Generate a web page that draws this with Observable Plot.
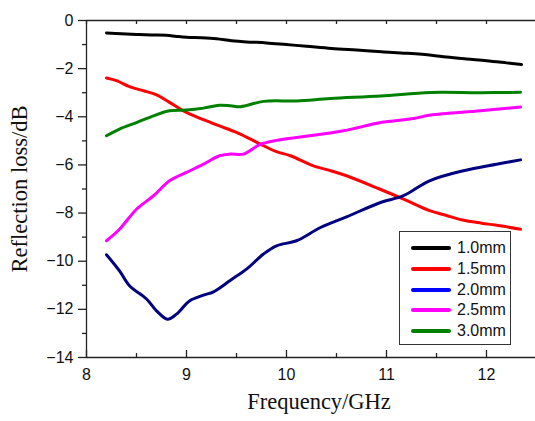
<!DOCTYPE html>
<html><head><meta charset="utf-8">
<script src="https://cdn.jsdelivr.net/npm/d3@7"></script>
<script src="https://cdn.jsdelivr.net/npm/@observablehq/plot@0.6"></script>
<style>
body{margin:0;background:#fff;}
#wrap{position:relative;width:535px;height:421px;overflow:hidden;}
#legend{position:absolute;left:399px;top:231px;width:112px;height:114px;border:1px solid #333;background:#fff;box-sizing:border-box;font-family:"Liberation Sans",Arial,sans-serif;font-size:16px;color:#111;}
.row{position:absolute;left:0;height:20px;}
.sw{position:absolute;left:11px;top:8px;width:40px;height:4px;border-radius:2px;}
.lb{position:absolute;left:57px;top:0;line-height:20px;}
</style></head><body><div id="wrap"></div>
<script>
const seriesNames = ["1.0mm", "1.5mm", "2.0mm", "2.5mm", "3.0mm"];
const lineColors = ["#000000", "#ff0000", "#000080", "#ff00ff", "#008000"];
const legendColors = ["#000000", "#ff0000", "#0000ff", "#ff00ff", "#008000"];

const f10 = [8.2, 8.35, 8.5, 8.65, 8.8, 8.9, 9.0, 9.15, 9.3, 9.45, 9.6, 9.8, 10.0, 10.2, 10.45, 10.7, 10.95, 11.2, 11.45, 11.6, 11.8, 12.0, 12.2, 12.35];
const rl10 = [-0.52, -0.55, -0.58, -0.60, -0.61, -0.66, -0.70, -0.72, -0.76, -0.84, -0.89, -0.93, -1.0, -1.07, -1.16, -1.23, -1.30, -1.36, -1.44, -1.52, -1.6, -1.67, -1.76, -1.83];

const f15 = [8.2, 8.3, 8.43, 8.57, 8.7, 8.83, 9.0, 9.17, 9.33, 9.5, 9.64, 9.77, 9.9, 10.04, 10.27, 10.45, 10.6, 10.93, 11.17, 11.43, 11.6, 11.76, 11.95, 12.09, 12.34];
const rl15 = [-2.39, -2.5, -2.75, -2.92, -3.09, -3.4, -3.82, -4.12, -4.38, -4.65, -4.93, -5.2, -5.45, -5.62, -6.04, -6.25, -6.45, -7.0, -7.42, -7.9, -8.1, -8.29, -8.42, -8.5, -8.67];

const f20 = [8.2, 8.33, 8.43, 8.6, 8.7, 8.81, 8.9, 9.03, 9.17, 9.27, 9.44, 9.6, 9.77, 9.9, 10.1, 10.34, 10.6, 10.94, 11.17, 11.43, 11.77, 12.1, 12.34];
const rl20 = [-9.73, -10.4, -11.02, -11.57, -12.06, -12.41, -12.2, -11.65, -11.41, -11.27, -10.79, -10.33, -9.7, -9.36, -9.15, -8.6, -8.16, -7.56, -7.28, -6.66, -6.24, -5.97, -5.79];

const f25 = [8.2, 8.33, 8.5, 8.67, 8.83, 9.0, 9.17, 9.33, 9.44, 9.57, 9.74, 9.9, 10.1, 10.57, 10.94, 11.27, 11.44, 11.94, 12.34];
const rl25 = [-9.15, -8.67, -7.84, -7.28, -6.66, -6.31, -5.97, -5.62, -5.55, -5.55, -5.14, -4.98, -4.86, -4.58, -4.24, -4.07, -3.93, -3.75, -3.59];

const f30 = [8.2, 8.33, 8.5, 8.67, 8.83, 9.0, 9.17, 9.33, 9.44, 9.54, 9.77, 10.1, 10.44, 10.94, 11.44, 11.94, 12.34];
const rl30 = [-4.79, -4.51, -4.24, -3.96, -3.75, -3.72, -3.64, -3.52, -3.54, -3.58, -3.36, -3.34, -3.24, -3.14, -2.99, -3.0, -2.98];

const xMajor = [8, 9, 10, 11, 12];
const xMinor = [8.5, 9.5, 10.5, 11.5];
const yMajor = [0, -2, -4, -6, -8, -10, -12, -14];
const yMinor = [-1, -3, -5, -7, -9, -11, -13];
const xTitle = "Frequency/GHz";
const yTitle = "Reflection loss/dB";

const freqs = [f10, f15, f20, f25, f30];
const rls = [rl10, rl15, rl20, rl25, rl30];
const data = seriesNames.flatMap((s, i) => freqs[i].map((f, j) => ({series: s, f, rl: rls[i][j]})));

const W = 535, H = 421, mT = 20, mB = 64, mL = 86;
const innerH = H - mT - mB;
const axisCol = "#222";
const sans = "'Liberation Sans', Arial, sans-serif";
const serif = "'Liberation Serif', 'Times New Roman', serif";

const chart = Plot.plot({
  width: W, height: H,
  marginTop: mT, marginBottom: mB, marginLeft: mL, marginRight: 0,
  style: {fontFamily: sans, fontSize: "16px", color: "#111", background: "#fff"},
  x: {domain: [8, 12.49]},
  y: {domain: [-14, 0]},
  color: {domain: seriesNames, range: lineColors},
  marks: [
    Plot.line(data, {x: "f", y: "rl", z: "series", stroke: "series", strokeWidth: 3, curve: "catmull-rom"}),
    Plot.ruleY([0], {stroke: axisCol, strokeWidth: 1.3}),
    Plot.ruleY([-14], {stroke: axisCol, strokeWidth: 1.3}),
    Plot.ruleX([8], {stroke: axisCol, strokeWidth: 1.3}),
    Plot.tickX(xMajor, {x: d => d, insetTop: innerH - 7, stroke: axisCol, strokeWidth: 1.3}),
    Plot.tickX(xMinor, {x: d => d, insetTop: innerH - 4, stroke: axisCol, strokeWidth: 1.3}),
    Plot.tickX(xMajor, {x: d => d, insetBottom: innerH - 4, stroke: axisCol, strokeWidth: 1.3}),
    Plot.tickX(xMinor, {x: d => d, insetBottom: innerH - 4, stroke: axisCol, strokeWidth: 1.3}),
    Plot.axisX(xMajor, {tickSize: 0, tickPadding: 11, label: null, fontSize: 16}),
    Plot.axisY(yMajor, {tickSize: 8, tickPadding: 5, label: null, stroke: axisCol, strokeWidth: 1.3, fontSize: 16}),
    Plot.axisY(yMinor, {tickSize: 4, tickFormat: () => "", label: null, stroke: axisCol, strokeWidth: 1.3}),
    Plot.text([xTitle], {frameAnchor: "bottom", textAnchor: "middle", dy: 51, dx: 8, fontFamily: serif, fontSize: 22.5, fill: "#111"}),
    Plot.text([yTitle], {frameAnchor: "left", textAnchor: "middle", lineAnchor: "middle", rotate: -90, dx: -67, fontFamily: serif, fontSize: 22.5, fill: "#111"})
  ]
});

const wrap = document.getElementById("wrap");
wrap.appendChild(chart);
const leg = document.createElement("div");
leg.id = "legend";
seriesNames.forEach((s, i) => {
  const r = document.createElement("div");
  r.className = "row";
  r.style.top = (6 + i * 20.8) + "px";
  r.innerHTML = `<div class="sw" style="background:${legendColors[i]}"></div><div class="lb">${s}</div>`;
  leg.appendChild(r);
});
wrap.appendChild(leg);
</script>
</body></html>
